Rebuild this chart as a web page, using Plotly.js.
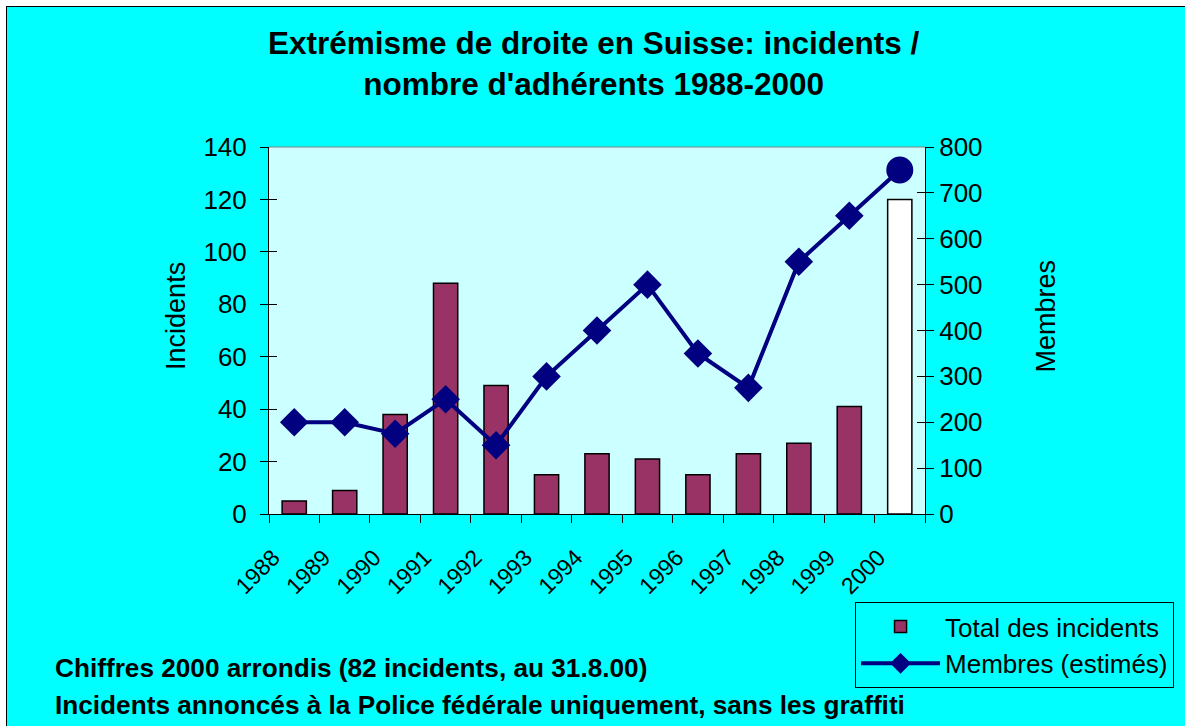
<!DOCTYPE html>
<html>
<head>
<meta charset="utf-8">
<script src="https://cdn.plot.ly/plotly-3.0.1.min.js"></script>
<style>
  html, body { margin: 0; padding: 0; background: #ffffff; width: 1185px; height: 726px; overflow: hidden; }
  #wrap { position: absolute; left: 6px; top: 6px; border-left: 1px solid #000; border-top: 1px solid #000; width: 1178px; height: 719px; }
  #chart { width: 1178px; height: 719px; }
</style>
</head>
<body>
<div id="wrap"><div id="chart"></div></div>
<script>
const years = ['1988','1989','1990','1991','1992','1993','1994','1995','1996','1997','1998','1999','2000'];
const incidents = [5, 9, 38, 88, 49, 15, 23, 21, 15, 23, 27, 41, 120];
const membres = [200, 200, 175, 250, 150, 300, 400, 500, 350, 275, 550, 650, 750];
const incidentsName = 'Total des incidents';
const membresName = 'Membres (estimés)';
const titleText = 'Extrémisme de droite en Suisse: incidents /<br>nombre d\'adhérents 1988-2000';
const note1 = 'Chiffres 2000 arrondis (82 incidents, au 31.8.00)';
const note2 = 'Incidents annoncés à la Police fédérale uniquement, sans les graffiti';

const FONT = 'Liberation Sans, Arial, sans-serif';
const barColors = years.map(y => y === '2000' ? '#FFFFFF' : '#993366');
const symbols = years.map(y => y === '2000' ? 'circle' : 'diamond');
const sizes = years.map(y => y === '2000' ? 27 : 22);

const traces = [
  {
    type: 'bar', name: incidentsName, x: years, y: incidents,
    marker: { color: barColors, line: { color: '#000000', width: 1.5 } },
    yaxis: 'y'
  },
  {
    type: 'scatter', mode: 'lines+markers', name: membresName, x: years, y: membres,
    line: { color: '#000080', width: 4 },
    marker: { color: '#000080', symbol: symbols, size: sizes, opacity: 1, line: { width: 0 } },
    yaxis: 'y2'
  }
];

const tickFont = { family: FONT, size: 26, color: '#000' };

const layout = {
  width: 1178, height: 719,
  paper_bgcolor: '#00FFFF',
  plot_bgcolor: '#CCFFFF',
  margin: { l: 262, r: 259, t: 140, b: 212 },
  showlegend: true,
  bargap: 0.52,
  title: {
    text: titleText,
    font: { family: FONT, size: 31.5, weight: 'bold', color: '#000' },
    x: 0.498, xref: 'container', xanchor: 'center',
    y: 0.935, yref: 'container', yanchor: 'top'
  },
  xaxis: {
    type: 'category',
    range: [-0.5, 12.5],
    tickson: 'boundaries',
    ticks: 'outside', ticklen: 8, tickcolor: '#000', tickwidth: 1,
    tickangle: -45,
    ticklabelstandoff: 20,
    ticklabelshift: -21,
    tickfont: { family: FONT, size: 23, color: '#000' },
    showline: true, linecolor: '#000', linewidth: 1,
    showgrid: false, zeroline: false,
    fixedrange: true
  },
  yaxis: {
    range: [0, 140], dtick: 20, tick0: 0,
    ticks: 'outside', ticklen: 8, tickcolor: '#000',
    ticklabelstandoff: 8,
    tickfont: tickFont,
    showline: true, linecolor: '#000', linewidth: 1,
    showgrid: false, zeroline: false
  },
  yaxis2: {
    range: [0, 800], dtick: 100, tick0: 0,
    overlaying: 'y', side: 'right',
    ticks: 'outside', ticklen: 8, tickcolor: '#000',
    tickfont: tickFont,
    showline: true, linecolor: '#000', linewidth: 1,
    showgrid: false, zeroline: false
  },
  yaxis3: {
    range: [0, 140], dtick: 20, tick0: 0, overlaying: 'y', side: 'left',
    ticks: 'inside', ticklen: 8, tickcolor: '#000',
    showticklabels: false, showline: false, showgrid: false, zeroline: false
  },
  yaxis4: {
    range: [0, 800], dtick: 100, tick0: 0, overlaying: 'y', side: 'right',
    ticks: 'inside', ticklen: 8, tickcolor: '#000',
    showticklabels: false, showline: false, showgrid: false, zeroline: false
  },
  legend: {
    x: 0.892, xanchor: 'left', y: -0.24, yanchor: 'top',
    bgcolor: '#00FFFF', bordercolor: '#000', borderwidth: 1,
    font: { family: FONT, size: 26, color: '#000' },
    itemwidth: 79,
    traceorder: 'normal'
  },
  shapes: [
    { type: 'line', xref: 'paper', yref: 'paper', x0: 0, x1: 1, y0: 1, y1: 1, line: { color: '#808080', width: 1 } }
  ],
  annotations: [
    { text: 'Incidents', xref: 'paper', yref: 'paper', x: -0.1416, y: 0.54, textangle: -90,
      showarrow: false, xanchor: 'center', yanchor: 'middle', font: { family: FONT, size: 27, color: '#000' } },
    { text: 'Membres', xref: 'paper', yref: 'paper', x: 1.184, y: 0.54, textangle: -90,
      showarrow: false, xanchor: 'center', yanchor: 'middle', font: { family: FONT, size: 27, color: '#000' } },
    { text: note1, xref: 'paper', yref: 'paper', x: -0.3288, y: -0.4196, xanchor: 'left', yanchor: 'middle',
      showarrow: false, font: { family: FONT, size: 26.2, weight: 'bold', color: '#000' } },
    { text: note2, xref: 'paper', yref: 'paper', x: -0.3288, y: -0.5204, xanchor: 'left', yanchor: 'middle',
      showarrow: false, font: { family: FONT, size: 26.2, weight: 'bold', color: '#000' } }
  ]
};

// empty traces so the inside-tick overlay axes are drawn
traces.push({ type: 'scatter', x: [years[0]], y: [null], yaxis: 'y3', showlegend: false, hoverinfo: 'skip' });
traces.push({ type: 'scatter', x: [years[0]], y: [null], yaxis: 'y4', showlegend: false, hoverinfo: 'skip' });

Plotly.newPlot('chart', traces, layout, { displayModeBar: false, staticPlot: true });
</script>
</body>
</html>
